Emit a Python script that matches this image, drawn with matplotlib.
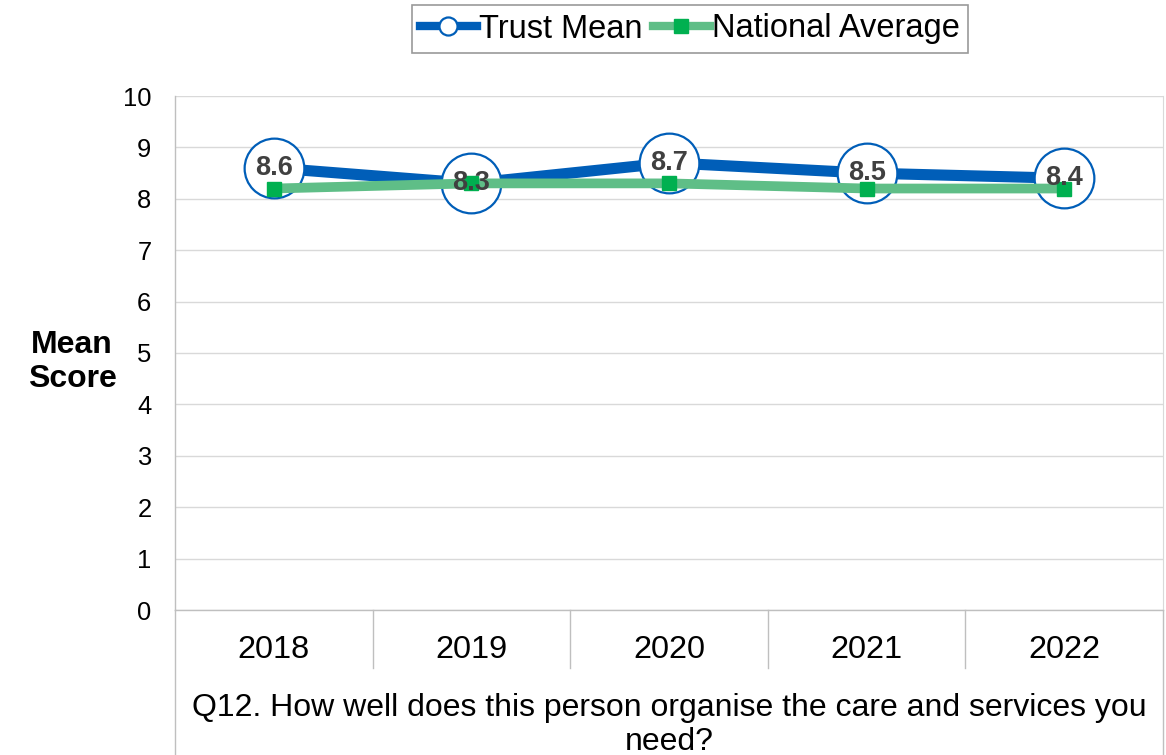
import matplotlib
matplotlib.use("Agg")
import matplotlib.pyplot as plt
from matplotlib.lines import Line2D
import matplotlib.transforms as mtransforms

plt.rcParams['font.family'] = ['Liberation Sans', 'DejaVu Sans']

years = ["2018", "2019", "2020", "2021", "2022"]
trust_mean = [8.6, 8.3, 8.7, 8.5, 8.4]
national_avg = [8.2, 8.3, 8.3, 8.2, 8.2]
question = "Q12. How well does this person organise the care and services you\nneed?"

blue = "#005EB8"
green_line = "#5FBE87"
green_marker = "#00B050"
grid_col = "#D9D9D9"
axis_col = "#BFBFBF"

fig = plt.figure(figsize=(11.66, 7.55), dpi=100)
ax = fig.add_axes([175 / 1166, 1 - 610 / 755, 988 / 1166, 514 / 755])

x = list(range(len(years)))

ax.plot(x, trust_mean, color=blue, lw=8, solid_capstyle='butt', zorder=3)
ax.plot(x, trust_mean, ls='none', marker='o', markersize=43, markerfacecolor='white',
        markeredgecolor=blue, markeredgewidth=1.6, zorder=4)
ax.plot(x, national_avg, color=green_line, lw=7, solid_capstyle='butt', zorder=5)
ax.plot(x, national_avg, ls='none', marker='s', markersize=10, color=green_marker, zorder=6)

for xi, v in zip(x, trust_mean):
    ax.text(xi, v, f"{v:.1f}", ha='center', va='center', fontsize=19.5, fontweight='bold',
            color='#404040', zorder=7)

ax.set_xlim(-0.5, len(years) - 0.5)
ax.set_ylim(0, 10)
ax.set_yticks(range(0, 11))
ax.tick_params(axis='y', length=0, labelsize=18.4, pad=17)
ax.set_xticks(x)
ax.set_xticklabels(years)
ax.tick_params(axis='x', length=0, labelsize=23.4, pad=18)
ax.grid(axis='y', color=grid_col, lw=1)
ax.set_axisbelow(True)

ax.spines['top'].set_visible(False)
ax.spines['left'].set_color(axis_col)
ax.spines['right'].set_color(grid_col)
ax.spines['bottom'].set_color(axis_col)
ax.spines['left'].set_linewidth(1)
ax.spines['bottom'].set_linewidth(1)

# category table below the axis
trans = mtransforms.blended_transform_factory(ax.transData, ax.transAxes)
sep_h = 58 / 514
for b in [i + 0.5 for i in x[:-1]]:
    ax.add_line(Line2D([b, b], [0, -sep_h], transform=trans, color=axis_col, lw=1, clip_on=False))
full_h = (755 - 610) / 514
ax.add_line(Line2D([0, 0], [0, -full_h], transform=ax.transAxes, color=axis_col, lw=1, clip_on=False))
ax.add_line(Line2D([1, 1], [0, -full_h], transform=ax.transAxes, color=axis_col, lw=1, clip_on=False))

fig.text(669 / 1166, 1 - 725 / 755, question, ha='center', va='center', fontsize=23,
         linespacing=1.2)

fig.text(72 / 1166, 1 - 362 / 755, "Mean\nScore", ha='center', va='center', fontsize=23,
         fontweight='bold', linespacing=1.2)

handles = [
    Line2D([], [], color=blue, lw=6, marker='o', markersize=13, markerfacecolor='white',
           markeredgecolor=blue, markeredgewidth=1.6),
    Line2D([], [], color=green_line, lw=6, marker='s', markersize=10,
           markerfacecolor=green_marker, markeredgecolor=green_marker),
]
leg = fig.legend(handles, ["Trust Mean", "National Average"], loc='center',
                 bbox_to_anchor=(690 / 1166, 1 - 29 / 755), ncol=2, fontsize=23.5,
                 frameon=True, fancybox=False, edgecolor='#808080', handlelength=1.75,
                 handletextpad=0.08, columnspacing=0.3, borderpad=0.25, borderaxespad=0)
leg.get_frame().set_linewidth(1.2)

fig.savefig("out.png", dpi=100)
